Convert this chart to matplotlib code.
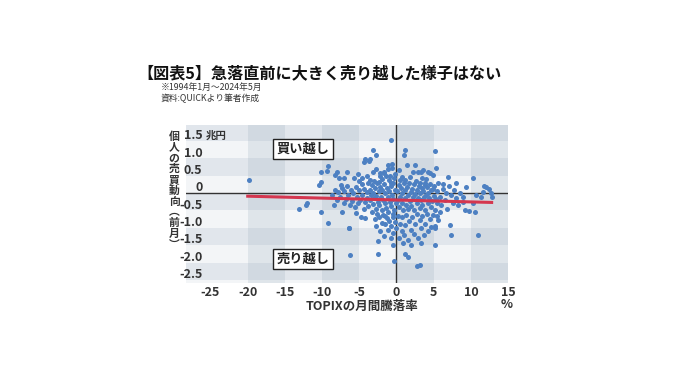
import matplotlib
matplotlib.use('Agg')
import matplotlib.pyplot as plt

plt.rcParams['font.family'] = ['Noto Sans CJK JP', 'DejaVu Sans']

# 散布図の点 (TOPIX月間騰落率 %, 個人の売買動向 兆円)
pts = [
    # 外れ値・まばらな点
    (-19.8, 0.37), (-13.1, -0.47), (-12.2, -0.33), (-12.0, -0.30),
    (-10.2, -0.54), (-9.2, -0.87), (-10.4, 0.23), (-10.2, 0.33), (-10.1, 0.61),
    (-9.2, 0.79), (-9.3, 0.63), (-8.2, 0.52), (-7.7, 0.43), (-8.0, 0.61),
    (-6.6, 0.61), (-7.1, 0.42), (-5.7, 0.42), (-4.6, 0.42), (-7.5, 0.23),
    (-4.4, 0.90), (-3.7, 0.92), (-8.4, -0.35), (-7.3, -0.54), (-6.4, -1.02),
    (-5.5, -0.58), (-4.8, -0.68), (-4.2, -0.73), (-6.2, -1.79),
    (-0.7, 1.53), (-3.1, 1.24), (-2.8, 1.10), (1.2, 1.24), (1.07, 1.10),
    (5.2, 1.22), (-4.2, 0.98), (-3.5, 0.98),
    (-3.1, 0.61), (-1.7, 0.60), (-1.1, 0.69), (-0.6, 0.83), (-0.6, 0.73),
    (-1.2, 0.80), (-1.7, 0.57), (-2.2, 0.57),
    (0.7, 0.47), (1.4, 0.80), (2.5, 0.80), (2.9, 0.61), (3.6, 0.66), (4.3, 0.61),
    (4.9, 0.52), (3.4, 0.42), (3.2, 0.28), (3.8, 0.23), (3.3, 0.60), (4.5, 0.58),
    (-3.5, 0.37), (-2.4, 0.33), (-0.8, 0.28), (0.5, 0.37),
    (5.3, 0.72), (6.9, 0.47), (10.3, 0.43),
    (8.0, 0.28), (9.4, 0.18), (12.0, 0.18), (12.5, 0.13), (11.6, 0.04),
    (12.7, 0.00), (12.9, -0.10), (11.8, 0.20),
    (6.3, 0.13), (6.7, 0.00), (7.4, -0.05), (8.5, 0.00), (8.9, -0.10),
    (10.7, -0.05), (11.4, -0.10),
    (7.6, -0.30), (8.3, -0.35), (8.9, -0.25), (10.3, -0.30), (9.2, -0.49),
    (10.5, -0.54), (9.8, -0.52),
    (5.4, -0.30), (5.2, -0.50), (5.5, -0.66), (5.6, -0.78), (5.2, -0.94),
    (7.2, -0.92), (7.4, -1.21), (10.9, -1.21),
    (5.2, -1.50), (5.2, -1.00), (3.3, -1.45),
    (1.2, -1.76), (1.5, -1.84), (2.7, -2.10), (3.2, -2.07),
    (-0.27, -1.96), (-0.4, -1.50), (-2.5, -1.38), (-2.5, -1.76), (-6.4, -1.00),
    # 中心の帯 (-8.5〜-4)
    (-8.6, -0.05), (-8.2, 0.10), (-8.0, -0.20), (-7.8, 0.02), (-7.6, -0.12),
    (-7.3, 0.15), (-7.1, -0.28), (-7.0, 0.05), (-6.8, -0.18), (-6.6, 0.20),
    (-6.5, -0.05), (-6.3, -0.35), (-6.1, 0.10), (-6.0, -0.22), (-5.8, 0.00),
    (-5.6, -0.40), (-5.5, 0.18), (-5.3, -0.10), (-5.2, -0.30), (-5.0, 0.08),
    (-4.9, -0.20), (-4.7, 0.25), (-4.6, -0.05), (-4.4, -0.45), (-4.3, 0.12),
    (-4.2, -0.25), (-4.0, 0.02), (-3.9, -0.15), (-3.8, 0.30), (-3.8, -0.38),
    # 中心の帯 (-3.7〜0)
    (-3.6, 0.10), (-3.5, -0.20), (-3.4, -0.05), (-3.3, 0.22), (-3.2, -0.32),
    (-3.1, 0.00), (-3.0, -0.15), (-2.9, 0.15), (-2.8, -0.45), (-2.7, -0.08),
    (-2.6, 0.28), (-2.5, -0.25), (-2.4, 0.05), (-2.3, -0.35), (-2.2, 0.18),
    (-2.1, -0.10), (-2.0, -0.50), (-1.9, 0.08), (-1.8, -0.20), (-1.7, 0.25),
    (-1.6, -0.30), (-1.5, 0.00), (-1.4, -0.42), (-1.3, 0.15), (-1.2, -0.12),
    (-1.1, -0.55), (-1.0, 0.05), (-0.9, -0.25), (-0.8, 0.20), (-0.7, -0.38),
    (-0.6, -0.05), (-0.5, 0.30), (-0.4, -0.18), (-0.3, -0.48), (-0.2, 0.10),
    (-0.1, -0.30), (-3.0, 0.35), (-1.9, 0.40), (-1.0, 0.38), (-2.6, -0.60),
    (-1.5, -0.65), (-0.5, -0.70), (-3.3, -0.55), (-0.9, 0.50), (-2.2, 0.48),
    # 中心の帯 (0〜6)
    (0.1, 0.05), (0.2, -0.20), (0.3, 0.22), (0.4, -0.40), (0.5, -0.10),
    (0.6, 0.15), (0.7, -0.30), (0.8, 0.00), (0.9, -0.50), (1.0, 0.28),
    (1.1, -0.15), (1.2, 0.08), (1.3, -0.35), (1.4, 0.18), (1.5, -0.05),
    (1.6, -0.45), (1.7, 0.30), (1.8, -0.22), (1.9, 0.02), (2.0, -0.38),
    (2.1, 0.12), (2.2, -0.10), (2.3, 0.25), (2.4, -0.50), (2.5, -0.02),
    (2.6, 0.35), (2.7, -0.28), (2.8, 0.10), (2.9, -0.15), (3.0, 0.20),
    (3.1, -0.42), (3.2, 0.00), (3.3, -0.20), (3.4, 0.15), (3.5, -0.35),
    (3.6, 0.05), (3.7, -0.10), (3.8, 0.30), (3.9, -0.48), (4.0, -0.05),
    (4.1, 0.18), (4.2, -0.30), (4.3, 0.00), (4.4, -0.15), (4.5, 0.25),
    (4.6, -0.40), (4.7, 0.08), (4.8, -0.22), (4.9, 0.12), (5.0, -0.08),
    (5.1, 0.20), (5.3, -0.18), (5.4, 0.05), (5.6, 0.28), (5.8, -0.12),
    # 帯の下側
    (-2.9, -0.75), (-2.7, -0.95), (-2.4, -0.70), (-2.2, -1.10), (-2.0, -0.85),
    (-1.8, -0.62), (-1.7, -1.25), (-1.5, -0.90), (-1.3, -0.72), (-1.2, -1.05),
    (-1.0, -0.80), (-0.8, -1.30), (-0.7, -0.95), (-0.5, -0.60), (-0.4, -1.15),
    (-0.2, -0.82), (0.0, -1.00), (0.2, -0.65), (0.3, -1.28), (0.5, -0.88),
    (0.7, -1.10), (0.8, -0.70), (1.0, -1.20), (1.2, -0.92), (1.3, -0.62),
    (1.5, -1.35), (1.7, -0.80), (1.9, -1.05), (2.1, -0.68), (2.3, -1.18),
    (2.5, -0.90), (2.7, -0.60), (2.9, -1.30), (3.1, -0.78), (3.3, -1.02),
    (3.5, -0.65), (3.7, -1.20), (3.9, -0.88), (4.1, -0.60), (4.3, -1.10),
    (4.5, -0.75), (4.7, -0.98), (4.9, -0.62), (0.9, -1.45), (2.0, -1.50),
    # 帯の上側
    (-5.2, 0.55), (-4.0, 0.50), (-2.8, 0.70), (-1.4, 0.50), (-0.2, 0.55),
    (0.3, 0.65), (1.8, 0.45), (2.2, 0.62), (4.0, 0.40), (-5.0, 0.35),
    (1.2, 0.38), (-0.3, 0.42),
    # 右側
    (6.0, -0.35), (6.2, 0.25), (6.5, -0.20), (7.0, 0.20), (7.8, 0.10),
    (8.0, -0.15), (6.8, -0.45), (5.8, -0.55),
]
topix = [p[0] for p in pts]
flow = [p[1] for p in pts]

# 回帰線の両端
trend_x = [-20, 12.8]
trend_y = [-0.09, -0.27]

xticks = [-25, -20, -15, -10, -5, 0, 5, 10, 15]
yticks = [1.5, 1.0, 0.5, 0, -0.5, -1.0, -1.5, -2.0, -2.5]
ytick_labels = ['1.5', '1.0', '0.5', '0', '-0.5', '-1.0', '-1.5', '-2.0', '-2.5']

fig = plt.figure(figsize=(6.8, 3.82), dpi=100)
W, H = 680, 382
ax = fig.add_axes([186 / W, 1 - 283 / H, (508 - 186) / W, (283 - 125) / H])
xmin, xmax = -28.3, 14.7
ymin, ymax = -2.59, 1.96
ax.set_xlim(xmin, xmax)
ax.set_ylim(ymin, ymax)
ax.set_facecolor('#f3f5f7')
for s in ax.spines.values():
    s.set_visible(False)

# 背景の格子模様
band = '#9cadc0'
for x0 in [-20, -10, 0, 10]:
    ax.axvspan(x0, x0 + 5, color=band, alpha=0.22, lw=0, zorder=0)
for y0 in [1.5, 0.5, -0.5, -1.5, -2.5]:
    ax.axhspan(y0, y0 + 0.5, color=band, alpha=0.2, lw=0, zorder=0)

ax.axhline(0, color='#333333', lw=1.0, zorder=1)
ax.axvline(0, color='#333333', lw=1.0, zorder=1)

ax.scatter(topix, flow, s=13, color='#4d80c2', lw=0, zorder=2)
ax.plot(trend_x, trend_y, color='#d4364f', lw=2.2, zorder=3)

# 軸目盛
ax.set_xticks(xticks)
ax.set_xticklabels([str(t) for t in xticks], fontsize=9, fontweight='bold', color='#333333')
ax.tick_params(axis='x', length=0, pad=2.5)
ax.set_yticks([])
for v, lab in zip(yticks, ytick_labels):
    ax.text(-26.1, v + 0.05, lab, ha='right', va='baseline', fontsize=9,
            fontweight='bold', color='#333333', zorder=4)
ax.text(-25.6, 1.55, '兆円', ha='left', va='baseline', fontsize=7.5,
        fontweight='bold', color='#333333', zorder=4)

box = dict(boxstyle='square,pad=0.25', fc='white', ec='#222222', lw=1)
ax.text(-12.6, 1.27, '買い越し', ha='center', va='center', fontsize=9.5,
        fontweight='bold', color='#222222', bbox=box, zorder=5)
ax.text(-12.6, -1.9, '売り越し', ha='center', va='center', fontsize=9.5,
        fontweight='bold', color='#222222', bbox=box, zorder=5)

fig.text(362 / W, 1 - 306 / H, 'TOPIXの月間騰落率', ha='center', va='center',
         fontsize=9, fontweight='bold', color='#333333')
fig.text(507 / W, 1 - 305 / H, '%', ha='center', va='center',
         fontsize=9, fontweight='bold', color='#333333')

# 縦書きの軸ラベル
ylabel = '個人の売買動向︵前月︶'
fig.text(174 / W, 1 - 131 / H, '\n'.join(ylabel), ha='center', va='top',
         fontsize=7.8, fontweight='bold', color='#333333', linespacing=1.1)

fig.text(137 / W, 1 - 73 / H, '【図表5】急落直前に大きく売り越した様子はない',
         ha='left', va='center', fontsize=11.6, fontweight='bold', color='#111111')
fig.text(161 / W, 1 - 87 / H, '※1994年1月～2024年5月', ha='left', va='center',
         fontsize=6.3, color='#333333')
fig.text(161 / W, 1 - 98 / H, '資料:QUICKより筆者作成', ha='left', va='center',
         fontsize=6.3, color='#333333')

fig.savefig('out.png', dpi=100)
